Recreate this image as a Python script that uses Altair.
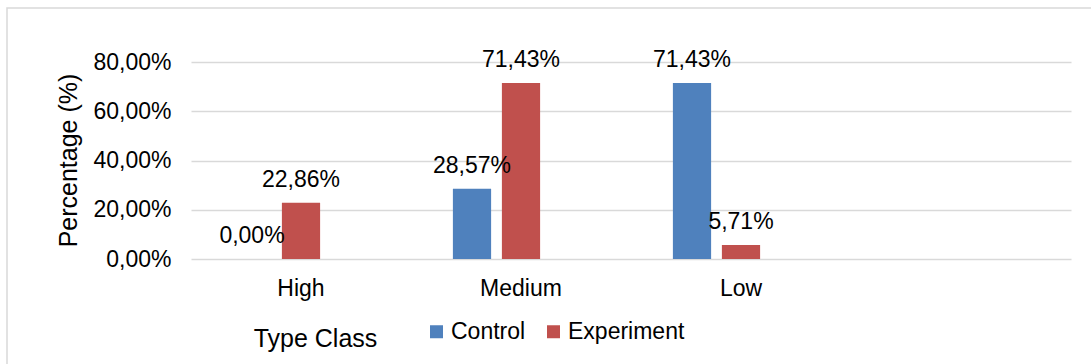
import altair as alt
import pandas as pd

categories = ["High", "Medium", "Low"]
control = [0.0, 0.2857, 0.7143]
experiment = [0.2286, 0.7143, 0.0571]
series = ["Control", "Experiment"]
colors = ["#4F81BD", "#C0504D"]
y_ticks = [0, 0.2, 0.4, 0.6, 0.8]

rows = []
for i, c in enumerate(categories):
    rows.append({"cls": c, "series": "Control", "value": control[i]})
    rows.append({"cls": c, "series": "Experiment", "value": experiment[i]})
df = pd.DataFrame(rows)

FONT = "Liberation Sans"
x_domain = categories + [" "]
offset_domain = series + ["_"]

x_enc = alt.X("cls:N", sort=x_domain,
              scale=alt.Scale(domain=x_domain, paddingInner=0, paddingOuter=0),
              axis=alt.Axis(title="Type Class", labelAngle=0, domain=False, ticks=False,
                            labelPadding=18, labelFontSize=23, labelFont=FONT, labelColor="#000",
                            titleFont=FONT, titleFontSize=25, titleFontWeight="normal", titleColor="#000",
                            titleX=124, titleY=79, titleBaseline="middle", titleAlign="center",
                            grid=False))
xo_enc = alt.XOffset("series:N",
                     scale=alt.Scale(domain=offset_domain, paddingInner=0.22, paddingOuter=0.855))

base = alt.Chart(df)

bars = base.mark_bar().encode(
    x=x_enc,
    xOffset=xo_enc,
    y=alt.Y("value:Q", scale=alt.Scale(domain=[0, 0.8], nice=False),
            axis=alt.Axis(values=y_ticks, title="Percentage (%)",
                          labelExpr="replace(format(datum.value, '.2%'), '.', ',')",
                          domain=False, ticks=False, labelPadding=20,
                          labelFontSize=23, labelFont=FONT, labelColor="#000",
                          gridColor="#d9d9d9", gridWidth=1.5,
                          titleFont=FONT, titleFontSize=25, titleFontWeight="normal", titleColor="#000",
                          titleAngle=-90, titleX=-123, titleY=98, titleAlign="center",
                          titleBaseline="middle")),
    color=alt.Color("series:N", scale=alt.Scale(domain=series, range=colors),
                    legend=alt.Legend(title=None, orient="none", legendX=234, legendY=258,
                                      direction="horizontal", symbolType="square", symbolSize=169,
                                      symbolStrokeWidth=0, labelFont=FONT, labelFontSize=23,
                                      labelColor="#000", columnPadding=16, labelOffset=3)),
)

labels = base.mark_text(font=FONT, fontSize=23, color="#000", baseline="middle", dy=-23).encode(
    x=alt.X("cls:N", sort=x_domain),
    xOffset=alt.XOffset("series:N"),
    y=alt.Y("value:Q"),
    text=alt.Text("label:N"),
).transform_calculate(
    label="replace(format(datum.value, '.2%'), '.', ',')"
)

border = alt.Chart(alt.Data(values=[{}])).mark_rect(
    fillOpacity=0, stroke="#d9d9d9", strokeWidth=1.5
).encode(
    x=alt.value(-184), x2=alt.value(920), y=alt.value(-54), y2=alt.value(330)
)

chart = alt.layer(border, bars, labels).properties(
    width=880, height=197,
    autosize=alt.AutoSizeParams(type="none"),
    padding={"left": 191, "top": 62, "right": 20, "bottom": 105},
).configure_view(stroke=None)

chart.save("out.html", embed_options={"renderer": "svg", "actions": False})
